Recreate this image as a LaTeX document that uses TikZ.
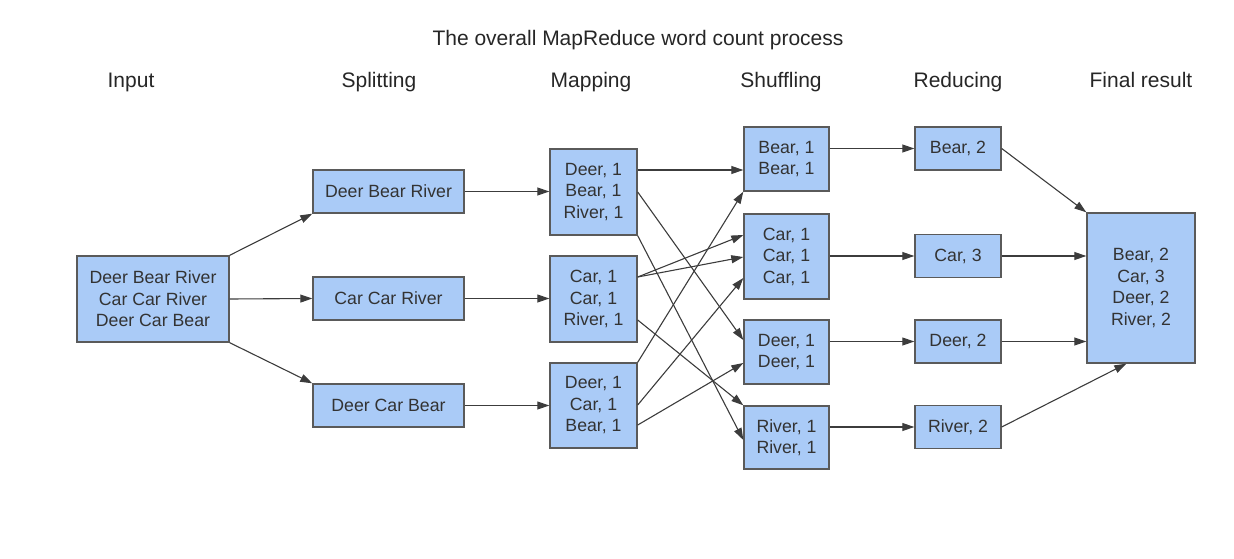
\documentclass[tikz,border=0pt]{standalone}
\usepackage{fontspec}
\setmainfont{Liberation Sans}
\usetikzlibrary{arrows.meta,calc}
\definecolor{boxfill}{RGB}{170,203,247}
\definecolor{boxline}{RGB}{90,90,90}
\definecolor{arrline}{RGB}{60,60,60}
\tikzset{
  x=1pt,y=-1pt,
  box/.style={draw=boxline,line width=1.4pt,fill=boxfill,align=center,inner sep=0pt,
    font=\fontsize{17.7}{21.5}\selectfont,text=black!80},
  lbl/.style={font=\fontsize{21}{24}\selectfont,text=black!85,inner sep=0pt,anchor=base},
  arr/.style={draw=arrline,line width=1.1pt,-{Triangle[length=12pt,width=8pt]}}
}
\begin{document}
\begin{tikzpicture}
\useasboundingbox (0,0) rectangle (1234,559);
% title and headings
\node[lbl] (title) at (638,45.5) {The overall MapReduce word count process};
\node[lbl] (hin) at (131,87.5) {Input};
\node[lbl] (hsp) at (379,87.5) {Splitting};
\node[lbl] (hma) at (591,87.5) {Mapping};
\node[lbl] (hsh) at (781,87.5) {Shuffling};
\node[lbl] (hre) at (958,87.5) {Reducing};
\node[lbl] (hfi) at (1141,87.5) {Final result};
% input
\node[box,minimum width=152pt,minimum height=86pt] (input) at (153,299) {Deer Bear River\\Car Car River\\Deer Car Bear};
% splitting
\node[box,minimum width=151pt,minimum height=43pt] (split1) at (388.5,191.5) {Deer Bear River};
\node[box,minimum width=151pt,minimum height=43pt] (split2) at (388.5,298.5) {Car Car River};
\node[box,minimum width=151pt,minimum height=43pt] (split3) at (388.5,405.5) {Deer Car Bear};
% mapping
\node[box,minimum width=87pt,minimum height=86pt] (map1) at (593.5,192) {Deer, 1\\Bear, 1\\River, 1};
\node[box,minimum width=87pt,minimum height=86pt] (map2) at (593.5,299) {Car, 1\\Car, 1\\River, 1};
\node[box,minimum width=87pt,minimum height=85pt] (map3) at (593.5,405.5) {Deer, 1\\Car, 1\\Bear, 1};
% shuffling
\node[box,minimum width=85pt,minimum height=64pt] (shuf1) at (786.5,159) {Bear, 1\\Bear, 1};
\node[box,minimum width=85pt,minimum height=85pt] (shuf2) at (786.5,256.5) {Car, 1\\Car, 1\\Car, 1};
\node[box,minimum width=85pt,minimum height=64pt] (shuf3) at (786.5,352) {Deer, 1\\Deer, 1};
\node[box,minimum width=85pt,minimum height=63pt] (shuf4) at (786.5,437.5) {River, 1\\River, 1};
% reducing
\node[box,minimum width=86pt,minimum height=43pt] (red1) at (958,148.5) {Bear, 2};
\node[box,minimum width=86pt,minimum height=43pt] (red2) at (958,256) {Car, 3};
\node[box,minimum width=86pt,minimum height=43pt] (red3) at (958,341.5) {Deer, 2};
\node[box,minimum width=86pt,minimum height=43pt] (red4) at (958,427) {River, 2};
% final
\node[box,minimum width=108pt,minimum height=150pt] (final) at (1141,288) {Bear, 2\\Car, 3\\Deer, 2\\River, 2};
\coordinate (finin) at ($(final.south west)+(40,0)$);
% input -> splitting
\draw[arr] (input.north east) -- (split1.south west);
\draw[arr] (input.east) -- (split2.west);
\draw[arr] (input.south east) -- (split3.north west);
% splitting -> mapping
\draw[arr] (split1.east) -- (split1.east -| map1.west);
\draw[arr] (split2.east) -- (split2.east -| map2.west);
\draw[arr] (split3.east) -- (split3.east -| map3.west);
% mapping -> shuffling
\draw[arr] (map1.east |- 0,170) -- (shuf1.west |- 0,170);
\draw[arr] (map1.east |- 0,192) -- (shuf3.west |- 0,340);
\draw[arr] (map1.south east) -- (shuf4.west |- 0,440);
\draw[arr] (map2.east |- 0,277) -- (shuf2.west |- 0,235);
\draw[arr] (map2.east |- 0,277) -- (shuf2.west |- 0,257);
\draw[arr] (map2.east |- 0,320) -- (shuf4.north west);
\draw[arr] (map3.north east) -- (shuf1.south west);
\draw[arr] (map3.east |- 0,405) -- (shuf2.west |- 0,278);
\draw[arr] (map3.east |- 0,425) -- (shuf3.west |- 0,363);
% shuffling -> reducing
\draw[arr] (shuf1.east |- red1.west) -- (red1.west);
\draw[arr] (shuf2.east |- red2.west) -- (red2.west);
\draw[arr] (shuf3.east |- red3.west) -- (red3.west);
\draw[arr] (shuf4.east |- red4.west) -- (red4.west);
% reducing -> final
\draw[arr] (red1.east) -- (final.north west);
\draw[arr] (red2.east) -- (red2.east -| final.west);
\draw[arr] (red3.east) -- (red3.east -| final.west);
\draw[arr] (red4.east) -- (finin);
\end{tikzpicture}
\end{document}
